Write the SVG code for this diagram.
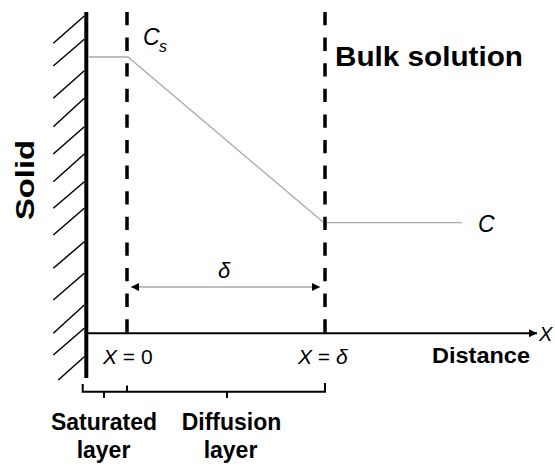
<svg xmlns="http://www.w3.org/2000/svg" width="555" height="466" viewBox="0 0 555 466">
<style>
.hatch{stroke:#000;stroke-width:1.5;fill:none}
.dash{stroke:#000;stroke-width:3.5;stroke-dasharray:13.3 12.3;fill:none}
.gray{stroke:#aaa;stroke-width:1.3;fill:none}
.blk{stroke:#000;stroke-width:2;fill:none}
.b{font-family:"Liberation Sans",Arial,sans-serif;font-weight:bold;fill:#000}
.n{font-family:"Liberation Sans",Arial,sans-serif;fill:#000}
.i{font-style:italic}
</style>
<defs>
<marker id="ah" viewBox="0 0 10 10" refX="10" refY="5" markerWidth="9" markerHeight="8" markerUnits="userSpaceOnUse" orient="auto-start-reverse">
<path d="M0,0 L10,5 L0,10 z" fill="#000"/>
</marker>
</defs>
<g id="solid">
<line x1="86.3" y1="12" x2="86.3" y2="378" stroke="#000" stroke-width="4"/>
<g class="hatch">
<line x1="53.3" y1="43.3" x2="84.3" y2="16"/>
<line x1="53.3" y1="66" x2="84.3" y2="39.3"/>
<line x1="53.3" y1="98.3" x2="84.3" y2="70.7"/>
<line x1="53.3" y1="126.7" x2="84.3" y2="98.3"/>
<line x1="53.3" y1="154" x2="84.3" y2="126.7"/>
<line x1="53.3" y1="181.7" x2="84.3" y2="154"/>
<line x1="53.3" y1="208.3" x2="84.3" y2="181.7"/>
<line x1="53.3" y1="235" x2="84.3" y2="208.3"/>
<line x1="53.3" y1="268.3" x2="84.3" y2="241.7"/>
<line x1="53.3" y1="300" x2="84.3" y2="273.3"/>
<line x1="53.3" y1="333.3" x2="84.3" y2="305"/>
<line x1="53.3" y1="355" x2="84.3" y2="328.3"/>
<line x1="58.3" y1="380" x2="84.3" y2="356.7"/>
</g>
<text class="b" font-size="25" textLength="80" lengthAdjust="spacingAndGlyphs" text-anchor="middle" transform="translate(33.5,180) rotate(-90)">Solid</text>
</g>
<g id="boundaries">
<line class="dash" x1="127" y1="12" x2="127" y2="333"/>
<line class="dash" x1="325" y1="12" x2="325" y2="333"/>
</g>
<g id="connectors">
<polyline class="gray" points="88,57 128,57 323,222"/>
<line class="gray" x1="327" y1="222.7" x2="462" y2="222.7"/>
<line x1="131" y1="287" x2="320" y2="287" stroke="#aaa" stroke-width="1.3" marker-start="url(#ah)" marker-end="url(#ah)"/>
<line x1="86" y1="333.3" x2="537" y2="333.3" stroke="#000" stroke-width="2" marker-end="url(#ah)"/>
<path class="blk" d="M82.7,384 V391.7 H325 V383 M104,391.7 V398 M127,391.7 V385.5 M227,391.7 V398"/>
</g>
<g id="labels">
<text class="n i" x="143" y="45" font-size="23">C</text>
<text class="n i" x="159" y="52" font-size="16">s</text>
<text class="b" x="335" y="66" font-size="27" textLength="188" lengthAdjust="spacingAndGlyphs">Bulk solution</text>
<text class="n i" x="478" y="232" font-size="23">C</text>
<text class="n i" x="218" y="278" font-size="22">δ</text>
<text class="n" x="103" y="364" font-size="21"><tspan class="i">X</tspan> = 0</text>
<text class="n" x="298" y="364" font-size="21"><tspan class="i">X</tspan> = <tspan class="i">δ</tspan></text>
<text class="b" x="432" y="363" font-size="22" textLength="98" lengthAdjust="spacingAndGlyphs">Distance</text>
<text class="n i" x="539" y="341" font-size="20">X</text>
<text class="b" x="104" y="430" font-size="23" text-anchor="middle">Saturated</text>
<text class="b" x="103.5" y="458" font-size="23" text-anchor="middle">layer</text>
<text class="b" x="231.5" y="430" font-size="23" text-anchor="middle">Diffusion</text>
<text class="b" x="230.5" y="458" font-size="23" text-anchor="middle">layer</text>
</g>
</svg>
